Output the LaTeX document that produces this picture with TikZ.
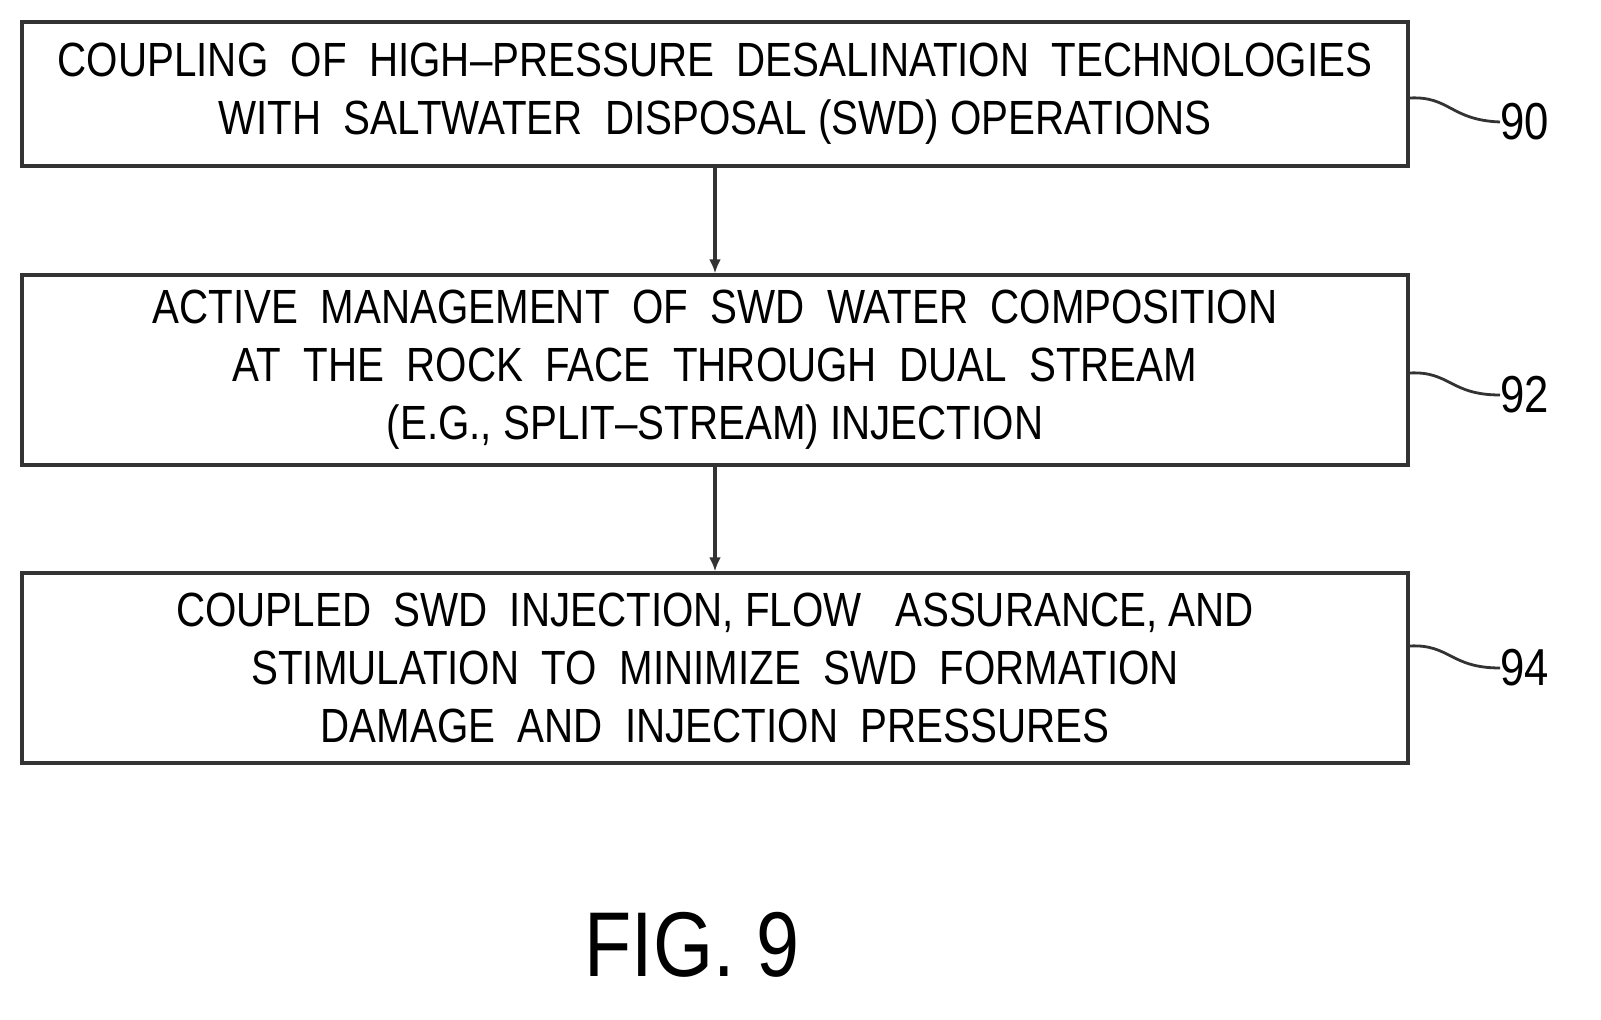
\documentclass[tikz,border=0pt]{standalone}
\usepackage{fontspec}
\setmainfont{Liberation Sans}[FakeStretch=0.84]
\usetikzlibrary{arrows.meta}
\begin{document}
\begin{tikzpicture}[x=0.5pt,y=-0.5pt,
  box/.style={draw=black!80,line width=1.6pt,minimum width=693pt,align=center,inner sep=0pt,font=\fontsize{24}{29}\selectfont},
  arr/.style={draw=black!80,line width=1.6pt,-{Latex[length=7pt,width=6pt]}},
  lead/.style={draw=black!80,line width=1.4pt},
  lbl/.style={font=\fontsize{26}{28}\selectfont,anchor=west,inner sep=0pt}]
\useasboundingbox (0,0) rectangle (1601,1020);
\node[box,minimum height=72pt] (b1) at (715,94) {COUPLING\ \ OF\ \ HIGH--PRESSURE\ \ DESALINATION\ \ TECHNOLOGIES\\WITH\ \ SALTWATER\ \ DISPOSAL\ (SWD)\ OPERATIONS};
\node[box,minimum height=95pt] (b2) at (715,370) {ACTIVE\ \ MANAGEMENT\ \ OF\ \ SWD\ \ WATER\ \ COMPOSITION\\AT\ \ THE\ \ ROCK\ \ FACE\ \ THROUGH\ \ DUAL\ \ STREAM\\(E.G.,\ SPLIT--STREAM)\ INJECTION};
\node[box,minimum height=95pt] (b3) at (715,668) {COUPLED\ \ SWD\ \ INJECTION,\ FLOW\ \ \ ASSURANCE,\ AND\\STIMULATION\ \ TO\ \ MINIMIZE\ \ SWD\ \ FORMATION\\DAMAGE\ \ AND\ \ INJECTION\ \ PRESSURES};
\draw[arr] (b1.south) -- (b2.north);
\draw[arr] (b2.south) -- (b3.north);
\node[lbl] (l90) at (1500,122) {90};
\node[lbl] (l92) at (1500,395) {92};
\node[lbl] (l94) at (1500,668) {94};
\draw[lead] (b1.east|-0,98) .. controls (1450,96) and (1450,120) .. (l90.west);
\draw[lead] (b2.east|-0,373) .. controls (1450,371) and (1450,395) .. (l92.west);
\draw[lead] (b3.east|-0,646) .. controls (1450,644) and (1450,668) .. (l94.west);
\node[font=\fontsize{46}{50}\selectfont,inner sep=0pt] (fig) at (692,945) {FIG.\ 9};
\end{tikzpicture}
\end{document}
